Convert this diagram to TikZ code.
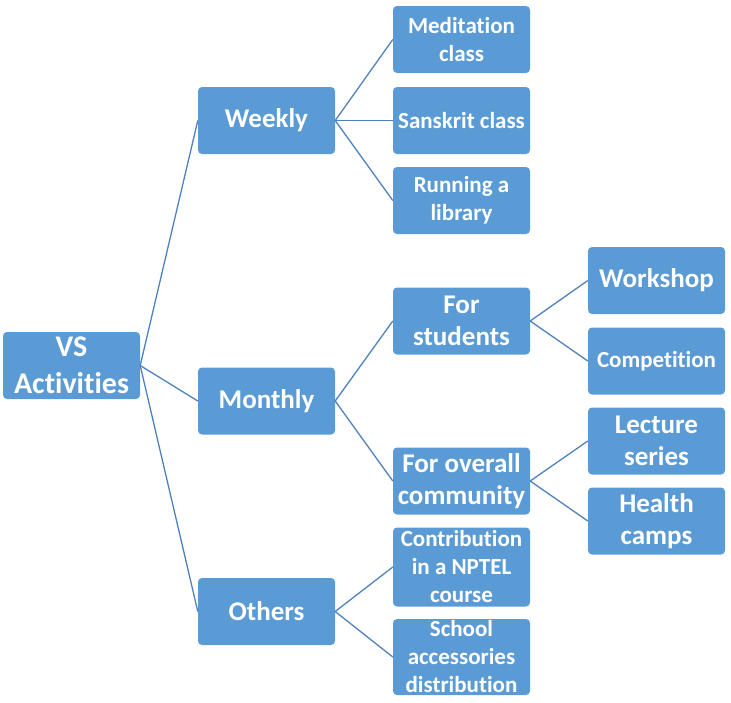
\documentclass[tikz,border=0pt]{standalone}
\usepackage{fontspec}
\setmainfont{Carlito}[RawFeature={-liga;-clig;-calt;-dlig}]
\definecolor{boxfill}{RGB}{91,155,213}
\definecolor{linkcol}{RGB}{79,129,189}
\begin{document}
\begin{tikzpicture}[x=1pt,y=-1pt,
  box/.style={rectangle, rounded corners=4pt, fill=boxfill, text=white,
    inner sep=0pt, minimum width=137pt, minimum height=67pt, align=center},
  big/.style={font=\bfseries\fontsize{27}{32}\selectfont},
  small/.style={font=\bfseries\fontsize{23}{28}\selectfont},
  huge/.style={font=\bfseries\fontsize{30}{37}\selectfont},
  link/.style={draw=linkcol, line width=1.3pt}]
\useasboundingbox (0,0) rectangle (731,702);

% root
\node[box,huge] (vs) at (71.5,365.5) {VS\\Activities};

% first level
\node[box,big] (weekly)  at (266.5,120.5) {Weekly};
\node[box,big] (monthly) at (266.5,401) {Monthly};
\node[box,big] (others)  at (266.5,611.5) {Others};

% weekly items
\node[box,small] (medit)    at (461.5,39.5)  {Meditation\\class};
\node[box,small] (sanskrit) at (461.5,120.5) {Sanskrit class};
\node[box,small] (library)  at (461.5,200.5) {Running a\\library};

% monthly groups
\node[box,big] (students)  at (461.5,321) {For\\students};
\node[box,big] (community) at (461.5,481) {For overall\\community};

% other items
\node[box,small,minimum height=79pt] (nptel)  at (461.5,567) {Contribution\\in a NPTEL\\course};
\node[box,small,minimum height=76pt] (school) at (461.5,657) {School\\accessories\\distribution};

% monthly items
\node[box,big]   (workshop) at (656.5,280.5) {Workshop};
\node[box,small] (compet)   at (656.5,361)   {Competition};
\node[box,big]   (lecture)  at (656.5,441)   {Lecture\\series};
\node[box,big]   (health)   at (656.5,521)   {Health\\camps};

% connectors
\foreach \c in {weekly,monthly,others} \draw[link] (vs.east) -- (\c.west);
\foreach \c in {medit,sanskrit,library} \draw[link] (weekly.east) -- (\c.west);
\foreach \c in {students,community} \draw[link] (monthly.east) -- (\c.west);
\foreach \c in {nptel,school} \draw[link] (others.east) -- (\c.west);
\foreach \c in {workshop,compet} \draw[link] (students.east) -- (\c.west);
\foreach \c in {lecture,health} \draw[link] (community.east) -- (\c.west);
\end{tikzpicture}
\end{document}
